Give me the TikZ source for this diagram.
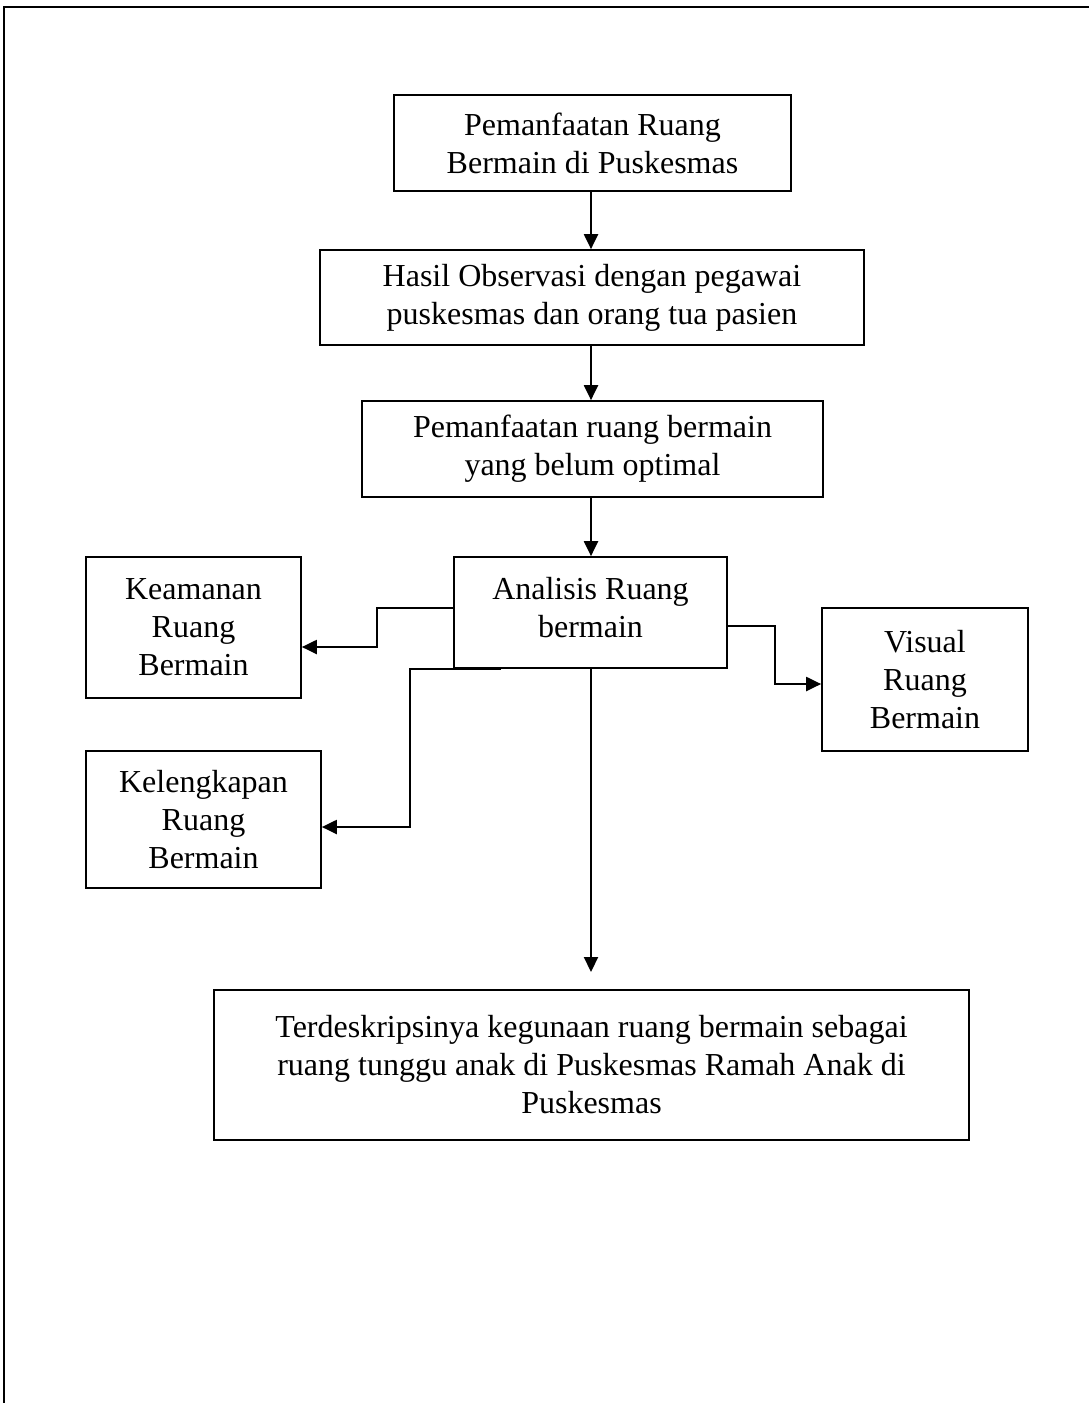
\documentclass[tikz,border=0pt]{standalone}
\usepackage{fontspec}
\setmainfont{Liberation Serif}
\usetikzlibrary{arrows.meta}
\begin{document}
\begin{tikzpicture}[x=1pt,y=-1pt,
  box/.style={draw,line width=1.7pt,rectangle,inner sep=0pt,align=center,
    font=\fontsize{32}{38}\selectfont},
  arr/.style={line width=2.1pt,-{Triangle[length=15pt,width=14pt]}},
  lin/.style={line width=2.1pt}]
\useasboundingbox (0,0) rectangle (1089,1403);
\draw[line width=2.5pt] (4,1403) -- (4,7) -- (1089,7);

\node[box,minimum width=397pt,minimum height=96pt] (b1) at (592.5,143) {Pemanfaatan Ruang\\Bermain di Puskesmas};
\node[box,minimum width=544pt,minimum height=95pt] (b2) at (592,297.5) {Hasil Observasi dengan pegawai\\puskesmas dan orang tua pasien};
\node[box,minimum width=461pt,minimum height=96pt] (b3) at (592.5,449) {Pemanfaatan ruang bermain\\yang belum optimal};
\node[box,minimum width=273pt,minimum height=111pt,text depth=10pt] (b4) at (590.5,612.5) {Analisis Ruang\\bermain};
\node[box,minimum width=215pt,minimum height=141pt] (kea) at (193.5,627.5) {Keamanan\\Ruang\\Bermain};
\node[box,minimum width=235pt,minimum height=137pt] (kel) at (203.5,819.5) {Kelengkapan\\Ruang\\Bermain};
\node[box,minimum width=206pt,minimum height=143pt] (vis) at (925,679.5) {Visual\\Ruang\\Bermain};
\node[box,minimum width=755pt,minimum height=150pt] (fin) at (591.5,1065) {Terdeskripsinya kegunaan ruang bermain sebagai\\ruang tunggu anak di Puskesmas Ramah Anak di\\Puskesmas};

\coordinate (kelstart) at (501,669);
\coordinate (finin) at (591,972);

\draw[arr] (b1.south -| 591,0) -- (b2.north -| 591,0);
\draw[arr] (b2.south -| 591,0) -- (b3.north -| 591,0);
\draw[arr] (b3.south -| 591,0) -- (b4.north -| 591,0);
\draw[arr] (b4.south -| 591,0) -- (finin);

\draw[arr] (b4.west |- 0,608) -- (377,608) |- (kea.east |- 0,647);
\draw[arr] (kelstart) -- (410,669) |- (kel.east |- 0,827);
\draw[arr] (b4.east |- 0,626) -| (775,684) -- (vis.west |- 0,684);
\end{tikzpicture}
\end{document}
